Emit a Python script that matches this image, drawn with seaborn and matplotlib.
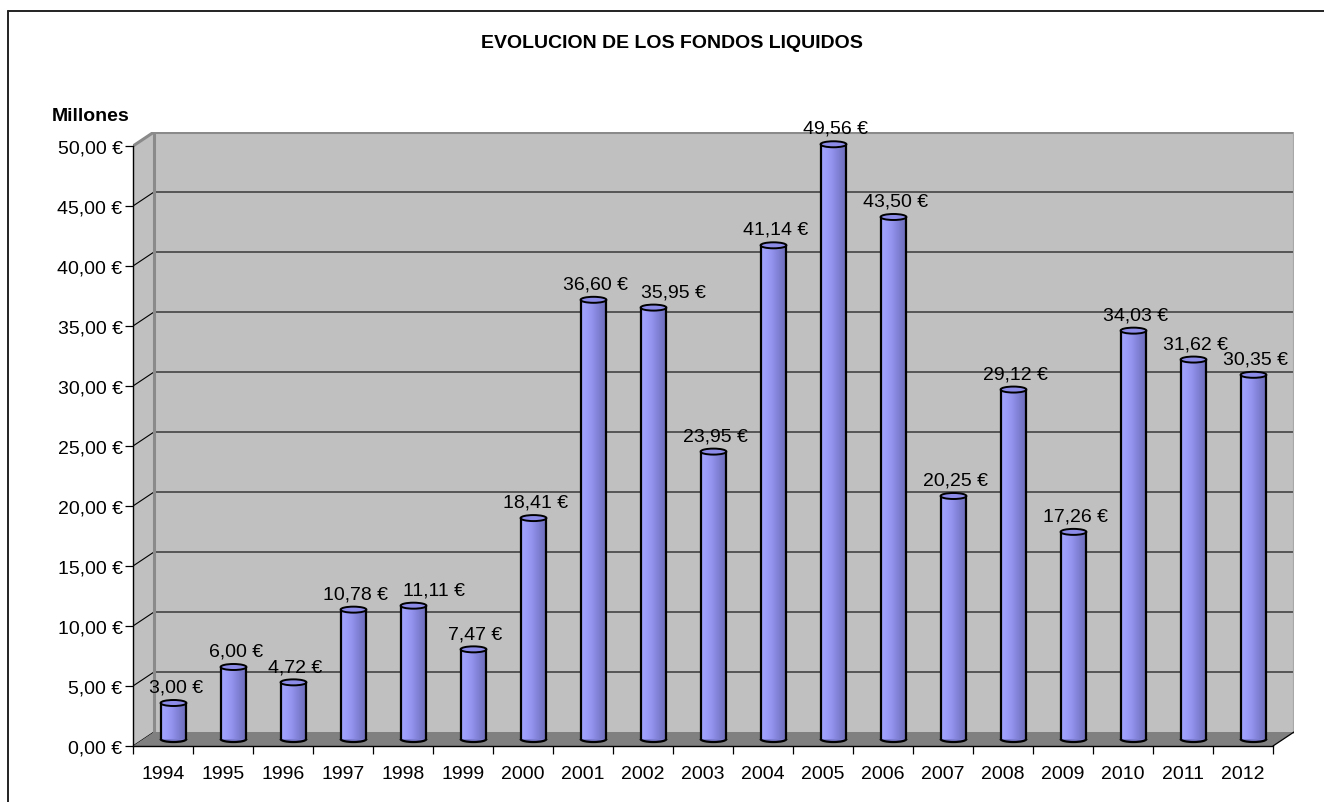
import numpy as np
import matplotlib
matplotlib.use("Agg")
import matplotlib.pyplot as plt
import seaborn as sns
import pandas as pd
from matplotlib.patches import Polygon, Ellipse, Arc
from matplotlib.colors import LinearSegmentedColormap
from matplotlib.lines import Line2D

# ---------------- data ----------------
years = [str(y) for y in range(1994, 2013)]
values = [3.00, 6.00, 4.72, 10.78, 11.11, 7.47, 18.41, 36.60, 35.95, 23.95,
          41.14, 49.56, 43.50, 20.25, 29.12, 17.26, 34.03, 31.62, 30.35]
y_ticks = [0, 5, 10, 15, 20, 25, 30, 35, 40, 45, 50]
title = "EVOLUCION DE LOS FONDOS LIQUIDOS"
unit_label = "Millones"

# horizontal nudges (points) of some data labels, to avoid overlaps like the original
label_nudge = {"1998": 13, "2002": 13}


def eur(v):
    return f"{v:.2f}".replace(".", ",") + " \u20ac"


# ---------------- style ----------------
sns.set_theme(style="white")
plt.rcParams["font.family"] = ["Liberation Sans", "DejaVu Sans"]

W, H = 1324, 803
fig = plt.figure(figsize=(W / 100, H / 100), dpi=100)
fig.patch.set_facecolor("white")

# pixel geometry of the pseudo-3D box
X0, Y0 = 133, 747          # front-left-bottom corner (pixels)
PX_CAT, PX_VAL = 60, 12    # pixels per category / per value unit
DXP, DYP = 21, 14          # depth offset (pixels)
n = len(years)
ax_w = n * PX_CAT + DXP
ax_h = 50 * PX_VAL + DYP
pos = [X0 / W, (H - Y0) / H, ax_w / W, ax_h / H]
DX, DY = DXP / PX_CAT, DYP / PX_VAL
XL, XR = -0.5, n - 0.5
YT = max(y_ticks)

wall = "#c0c0c0"
floor = "#808080"
FS_Y, FS_X, FS_LBL = 14, 14, 14

# ---------------- walls / axes ----------------
ax = fig.add_axes(pos)
ax.set_facecolor("none")
ax.set_xlim(XL, XR + DX)
ax.set_ylim(0, YT + DY)

# side wall
ax.add_patch(Polygon([(XL, 0), (XL, YT), (XL + DX, YT + DY), (XL + DX, DY)],
                     closed=True, facecolor=wall, edgecolor="none", zorder=0))
# back wall
ax.add_patch(Polygon([(XL + DX, DY), (XL + DX, YT + DY), (XR + DX, YT + DY), (XR + DX, DY)],
                     closed=True, facecolor=wall, edgecolor="none", zorder=0))
# floor
ax.add_patch(Polygon([(XL, 0), (XR, 0), (XR + DX, DY), (XL + DX, DY)],
                     closed=True, facecolor=floor, edgecolor="none", zorder=1))
# gridlines on back wall + diagonals on side wall
for v in y_ticks[1:-1]:
    ax.add_line(Line2D([XL + DX, XR + DX], [v + DY, v + DY], color="#444444", lw=1.2, zorder=0.5))
for v in y_ticks:
    ax.add_line(Line2D([XL, XL + DX], [v, v + DY], color="black", lw=0.8, zorder=0.6))
# wall borders (gray)
ax.add_line(Line2D([XL + DX, XL + DX, XR + DX, XR + DX], [DY, YT + DY, YT + DY, DY],
                   color="#8a8a8a", lw=2.2, zorder=0.7, solid_joinstyle="miter"))
ax.add_line(Line2D([XL, XL + DX], [YT, YT + DY], color="#8a8a8a", lw=2.2, zorder=0.7))
ax.add_line(Line2D([XR + DX, XR + DX], [DY, YT + DY], color="#a8a8a8", lw=1.5, zorder=0.7))
# front-right floor edge
ax.add_line(Line2D([XR, XR + DX], [0, DY], color="black", lw=0.9, zorder=1.5))

for s in ["top", "right"]:
    ax.spines[s].set_visible(False)
for s in ["left", "bottom"]:
    ax.spines[s].set_visible(True)
    ax.spines[s].set_color("black")
    ax.spines[s].set_linewidth(1.0)
ax.spines["left"].set_bounds(0, YT)
ax.spines["bottom"].set_bounds(XL, XR)

ax.set_yticks(y_ticks)
ax.set_yticklabels([eur(v) for v in y_ticks])
ax.tick_params(axis="y", left=True, length=6, width=0.9, pad=1.5,
               labelsize=FS_Y, colors="black", direction="out")
ax.set_xticks(range(n))
ax.set_xticklabels(years)
ax.tick_params(axis="x", which="major", bottom=True, length=0, pad=14, labelsize=FS_X, colors="black")
ax.set_xticks(np.arange(XL, XR + 0.01, 1.0), minor=True)
ax.tick_params(axis="x", which="minor", bottom=True, length=6, width=0.9, color="black", direction="out")
ax.grid(False)

# ---------------- cylinders (seaborn bars) ----------------
ax2 = fig.add_axes(pos)
df = pd.DataFrame({"year": years, "value": values})
sns.barplot(data=df, x="year", y="value", order=years, ax=ax2, width=0.43,
            color="#9999ff", saturation=1, edgecolor="none", errorbar=None)

cmap = LinearSegmentedColormap.from_list(
    "cyl", ["#a4a6ff", "#9c9cfa", "#9595f0", "#8585dc", "#7878c8", "#6c6cbb"])
grad = np.linspace(0, 1, 64).reshape(1, -1)
e_h = 6 / PX_VAL
bars = list(ax2.patches)
for i, p in enumerate(bars):
    x0, w, h = p.get_x(), p.get_width(), p.get_height()
    xc = x0 + w / 2
    p.set_facecolor("none")
    p.set_edgecolor("none")
    ax2.add_patch(Ellipse((xc, 0), w, e_h, facecolor="#7c7cd0", edgecolor="none", zorder=1.9))
    im = ax2.imshow(grad, extent=[x0, x0 + w, 0, h], aspect="auto", cmap=cmap,
                    interpolation="bilinear", zorder=2)
    im.set_clip_path(p)
    ax2.add_line(Line2D([x0, x0], [0, h], color="black", lw=1.6, zorder=3))
    ax2.add_line(Line2D([x0 + w, x0 + w], [0, h], color="black", lw=1.6, zorder=3))
    ax2.add_patch(Arc((xc, 0), w, e_h, theta1=180, theta2=360, color="black", lw=1.6, zorder=3))
    ax2.add_patch(Ellipse((xc, h), w, e_h, facecolor="#8c8ce8", edgecolor="black", lw=1.4, zorder=4))
    dx_pt = 1.5 + label_nudge.get(years[i], 0)
    ax2.annotate(eur(values[i]), xy=(i, h + e_h / 2), xytext=(dx_pt, 6), textcoords="offset points",
                 ha="center", va="baseline", fontsize=FS_LBL, color="black", zorder=5,
                 annotation_clip=False)

ax2.set_xlim(XL - DX / 2, XR + DX / 2)
ax2.set_ylim(-DY / 2, YT + DY / 2)
ax2.axis("off")

# ---------------- titles and frame ----------------
fig.text(671.5 / W, 1 - 44 / H, title, ha="center", va="center",
         fontsize=14, fontweight="bold", color="black")
fig.text(52 / W, 1 - 116.5 / H, unit_label, ha="left", va="center",
         fontsize=14, fontweight="bold", color="black")
fig.add_artist(Line2D([8 / W, 1.0], [1 - 11.5 / H, 1 - 11.5 / H], transform=fig.transFigure,
                      color="#222222", lw=1.4))
fig.add_artist(Line2D([8 / W, 8 / W], [1 - 11.5 / H, 0.0], transform=fig.transFigure,
                      color="#222222", lw=1.4))

fig.savefig("out.png", dpi=100)
